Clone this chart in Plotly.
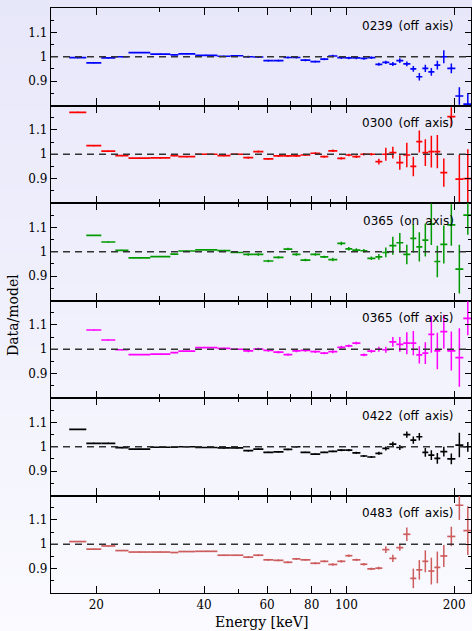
import numpy as np
import plotly.graph_objects as go
from plotly.subplots import make_subplots

# ---------------- data ----------------
# energy bin edges (keV)
E_EDGES = [16.8, 18.75, 20.65, 22.6, 24.6, 28.3, 32.2, 33.9, 37.8, 43.6,
           47.4, 51.5, 54.9, 58.6, 62.5, 66.7, 70.6, 74.4, 79.3, 84.5,
           89.0, 94.3, 99.3, 103.9, 109.4, 114.4, 120.5, 126.0, 131.8, 137.9,
           144.2, 150.9, 156.8, 163.0, 169.4, 176.1, 183.0, 191.4, 201.6, 212.2,
           224.8]

LABELS = ["0239 (off axis)", "0300 (off axis)", "0365 (on axis)",
          "0365 (off axis)", "0422 (off axis)", "0483 (off axis)"]

RATIO_0239_OFF = [0.996, 0.975, 0.995, 1.000, 1.017, 1.011, 1.008, 1.012, 1.006, 1.002,
                  1.004, 1.000, 0.999, 0.984, 0.984, 0.997, 0.997, 0.986, 0.980, 0.990,
                  1.003, 0.996, 0.995, 0.995, 0.993, 0.996, 0.969, 0.977, 0.970, 0.984,
                  0.971, 0.950, 0.918, 0.952, 0.938, 0.966, 1.000, 0.952, 0.839, 0.806]
ERR_0239_OFF = [0.002] * 11 + [0.004] * 9 + [0.005] * 6 + \
               [0.006, 0.007, 0.008, 0.010, 0.010, 0.012, 0.015, 0.015, 0.016, 0.018,
                0.027, 0.020, 0.036, 0.045]

RATIO_0300_OFF = [1.172, 1.035, 1.013, 0.994, 0.984, 0.985, 0.994, 0.990, 1.000, 0.994,
                  1.000, 0.986, 1.011, 0.981, 0.993, 0.993, 0.993, 0.997, 1.004, 0.990,
                  1.014, 0.983, 0.997, 0.990, 1.000, 1.000, 0.970, 1.000, 1.007, 0.966,
                  0.997, 0.950, 1.052, 1.007, 1.011, 1.011, 0.925, 1.154, 0.898, 0.900]
ERR_0300_OFF = [0.002] * 11 + [0.004] * 9 + [0.005] * 6 + \
               [0.012, 0.027, 0.024, 0.030, 0.050, 0.040, 0.045, 0.055, 0.065, 0.068,
                0.058, 0.039, 0.100, 0.120]

RATIO_0365_ON = [None, 1.067, 1.040, 1.006, 0.975, 0.980, 0.990, 1.003, 1.008, 1.005,
                 0.997, 0.989, 0.989, 0.962, 0.977, 1.011, 0.989, 0.966, 0.989, 0.979,
                 0.968, 1.034, 1.012, 1.007, 1.004, 0.973, 0.979, 0.997, 1.025, 1.037,
                 0.989, 1.055, 1.020, 1.048, 1.113, 0.960, 1.030, 1.110, 0.929, 1.150]
ERR_0365_ON = [0.002] * 11 + [0.005] * 9 + [0.007] * 6 + \
              [0.012, 0.020, 0.037, 0.040, 0.040, 0.058, 0.060, 0.068, 0.085, 0.065,
               0.078, 0.085, 0.100, 0.080]

RATIO_0365_OFF = [None, 1.079, 1.038, 0.998, 0.978, 0.980, 0.986, 0.992, 1.007, 1.004,
                  1.000, 0.993, 1.001, 0.995, 0.988, 0.978, 0.993, 0.995, 0.990, 0.984,
                  0.990, 1.008, 1.014, 1.025, 0.977, 0.992, 1.000, 0.998, 1.030, 1.020,
                  1.025, 1.025, 0.977, 0.984, 1.061, 0.993, 1.072, 0.993, 0.966, 1.127]
ERR_0365_OFF = [0.002] * 11 + [0.005] * 9 + [0.006] * 6 + \
               [0.010, 0.012, 0.020, 0.030, 0.045, 0.050, 0.035, 0.045, 0.075, 0.075,
                0.070, 0.080, 0.120, 0.070]

RATIO_0422_OFF = [1.071, 1.014, 1.014, 0.996, 0.990, 0.998, 0.998, 1.000, 0.997, 0.995,
                  0.995, 0.984, 0.990, 0.977, 0.979, 0.989, 1.000, 0.977, 0.970, 0.977,
                  0.981, 0.986, 0.986, 0.975, 0.962, 0.958, 0.973, 0.993, 1.011, 0.997,
                  1.050, 1.027, 1.041, 0.977, 0.966, 0.952, 0.980, 0.950, 1.007, 1.000]
ERR_0422_OFF = [0.002] * 11 + [0.003] * 9 + [0.004] * 6 + \
               [0.006, 0.008, 0.010, 0.010, 0.013, 0.015, 0.015, 0.018, 0.020, 0.022,
                0.020, 0.022, 0.050, 0.020]

RATIO_0483_OFF = [1.011, 0.980, 0.993, 0.974, 0.968, 0.968, 0.966, 0.970, 0.971, 0.955,
                  0.955, 0.947, 0.955, 0.936, 0.934, 0.926, 0.940, 0.936, 0.922, 0.930,
                  0.917, 0.930, 0.953, 0.936, 0.918, 0.899, 0.902, 0.978, 0.942, 0.986,
                  1.041, 0.860, 0.895, 0.930, 0.890, 0.905, 0.952, 1.032, 1.160, 1.056]
ERR_0483_OFF = [0.002] * 11 + [0.004] * 9 + [0.005] * 6 + \
               [0.006, 0.014, 0.015, 0.013, 0.028, 0.040, 0.040, 0.045, 0.055, 0.065,
                0.045, 0.040, 0.060, 0.100]

SERIES = [RATIO_0239_OFF, RATIO_0300_OFF, RATIO_0365_ON,
          RATIO_0365_OFF, RATIO_0422_OFF, RATIO_0483_OFF]
ERRORS = [ERR_0239_OFF, ERR_0300_OFF, ERR_0365_ON,
          ERR_0365_OFF, ERR_0422_OFF, ERR_0483_OFF]

X_TICKS = [20, 40, 60, 80, 100, 200]
X_MINOR = [30, 50, 70, 90]
Y_TICKS = [0.9, 1.0, 1.1]
Y_MINOR = [0.85, 0.95, 1.05, 1.15]

# ---------------- style ----------------
COLORS = ["#0000ff", "#ff0000", "#009a00", "#ff00ff", "#000000", "#cd5c5c"]
W, H = 472, 631
ML, MR, MT, MB = 51, 1, 8, 38
SERIF = "DejaVu Serif"

edges = np.array(E_EDGES)
lo, hi = edges[:-1], edges[1:]
centers = np.sqrt(lo * hi)

fig = make_subplots(rows=6, cols=1, shared_xaxes=True, vertical_spacing=0)

for i, (vals, errs, col) in enumerate(zip(SERIES, ERRORS, COLORS), start=1):
    fig.add_trace(go.Scatter(
        x=centers, y=vals, mode="markers",
        marker=dict(size=1, color=col),
        error_x=dict(type="data", symmetric=False, array=hi - centers,
                     arrayminus=centers - lo, width=0, thickness=1.7, color=col),
        error_y=dict(type="data", array=errs, width=0, thickness=1.5, color=col),
        showlegend=False, hoverinfo="skip"), row=i, col=1)
    fig.add_hline(y=1, row=i, col=1,
                  line=dict(color="#333333", width=1.4, dash="7px,5px"))
    xr = "x" if i == 1 else f"x{i}"
    yr = "y" if i == 1 else f"y{i}"
    fig.add_annotation(text=LABELS[i - 1].replace(" ", "\u2002"),
                       xref=f"{xr} domain", yref=f"{yr} domain",
                       x=(456 - ML) / (W - ML - MR), y=1 - 17.5 / 97.5,
                       xanchor="right", yanchor="middle", showarrow=False,
                       font=dict(family="DejaVu Sans", size=12, color="black"))

x_lo, x_hi = np.log10(14.94), np.log10(14.94) + (W - ML - MR) / 357.8
fig.update_xaxes(type="log", range=[x_lo, x_hi], showline=True, linecolor="black",
                 linewidth=1.3, mirror="allticks", ticks="inside", ticklen=7,
                 tickwidth=1.2, tickcolor="black", tickmode="array",
                 tickvals=X_TICKS, ticktext=[str(v) for v in X_TICKS],
                 minor=dict(tickmode="array", tickvals=X_MINOR, ticks="inside",
                            ticklen=4, tickwidth=1.2, tickcolor="black", showgrid=False),
                 showgrid=False, zeroline=False,
                 tickfont=dict(family=SERIF, size=12, color="black"))
fig.update_yaxes(range=[0.8, 1.2], showline=True, linecolor="black", linewidth=1.3,
                 mirror="allticks", ticks="inside", ticklen=6, tickwidth=1.2,
                 tickcolor="black", tickmode="array", tickvals=Y_TICKS,
                 ticktext=["0.9", "1", "1.1"],
                 minor=dict(tickmode="array", tickvals=Y_MINOR, ticks="inside",
                            ticklen=3, tickwidth=1.2, tickcolor="black", showgrid=False),
                 showgrid=False, zeroline=False,
                 tickfont=dict(family=SERIF, size=12, color="black"))

# background gradient (paper coords)
ph = H - MT - MB
shapes = []
NB = 40
top_c = np.array([231, 231, 250])
bot_c = np.array([250, 250, 255])
for k in range(NB):
    py0 = k * H / NB
    py1 = (k + 1) * H / NB + 1
    t = (k + 0.5) / NB
    c = (top_c + (bot_c - top_c) * t).round().astype(int)
    shapes.append(dict(type="rect", xref="paper", yref="paper", layer="below",
                       x0=-0.2, x1=1.05,
                       y0=(H - MB - py1) / ph, y1=(H - MB - py0) / ph,
                       line=dict(width=0), fillcolor=f"rgb({c[0]},{c[1]},{c[2]})"))
fig.update_layout(shapes=list(fig.layout.shapes) + shapes)

# axis titles
fig.add_annotation(text="Energy [keV]", xref="paper", yref="paper",
                   x=0.5, y=-(622 - (H - MB)) / ph, xanchor="center", yanchor="middle",
                   showarrow=False, font=dict(family=SERIF, size=14, color="black"))
fig.add_annotation(text="Data/model", xref="paper", yref="paper", textangle=-90,
                   x=(13 - ML) / (W - ML - MR), y=(H - MB - 315) / ph,
                   xanchor="center", yanchor="middle",
                   showarrow=False, font=dict(family=SERIF, size=14, color="black"))

fig.update_layout(width=W, height=H, margin=dict(l=ML, r=MR, t=MT, b=MB),
                  paper_bgcolor="rgb(242,242,252)", plot_bgcolor="rgba(0,0,0,0)",
                  showlegend=False)

fig.write_html("out.html", config={"displayModeBar": False},
               post_script="document.body.style.margin='0';document.body.style.overflow='hidden';")
